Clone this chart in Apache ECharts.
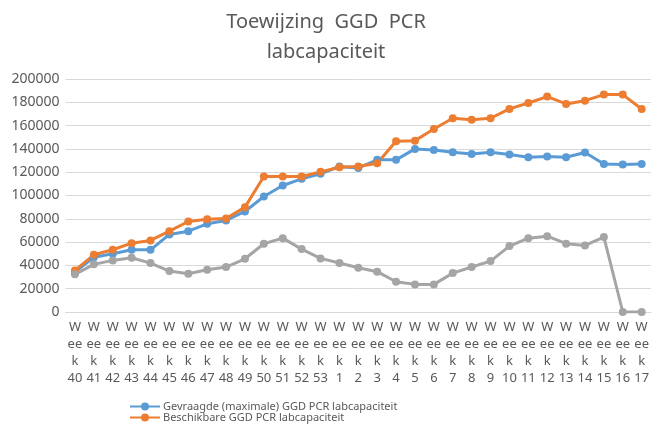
<!DOCTYPE html>
<html>
<head>
<meta charset="utf-8">
<script src="https://cdn.jsdelivr.net/npm/echarts@6/dist/echarts.min.js"></script>
<style>
  html, body { margin: 0; padding: 0; background: #fff; }
  #chart { width: 652px; height: 427px; }
</style>
</head>
<body>
<div id="chart"></div>
<script>
// weken 40 t/m 53 (2020) en 1 t/m 17 (2021)
const weeks = [40, 41, 42, 43, 44, 45, 46, 47, 48, 49, 50, 51, 52, 53,
  1, 2, 3, 4, 5, 6, 7, 8, 9, 10, 11, 12, 13, 14, 15, 16, 17];

const gevraagd = [34300, 47000, 50000, 53400, 53400, 66600, 69400, 75700, 78600, 86300,
  99100, 108600, 114300, 118600, 124900, 123700, 130600, 130600, 140000, 139100,
  137100, 135700, 137100, 135100, 132900, 133400, 132900, 136900, 127100, 126600, 127100];

const beschikbaar = [35700, 49100, 53400, 59100, 61400, 69400, 77700, 79700, 80300, 90000,
  116300, 116300, 116300, 120300, 124300, 124900, 127700, 146600, 147100, 157100,
  166300, 165100, 166300, 174300, 179400, 184900, 178600, 181400, 186600, 186600, 174300];

const verschil = [32300, 40900, 44300, 46600, 42000, 35100, 32900, 36300, 38600, 45700,
  58600, 63400, 54000, 46000, 42000, 38000, 34600, 26000, 23700, 23700,
  33400, 38600, 43700, 56600, 63400, 65100, 58600, 57100, 64300, 0, 0];

const chart = echarts.init(document.getElementById('chart'));

const txt = '#595959';
const font = '"Noto Sans", sans-serif';

function lineSeries(name, data, color) {
  return {
    name: name,
    type: 'line',
    data: data,
    symbol: 'circle',
    symbolSize: 8,
    lineStyle: { color: color, width: 3 },
    itemStyle: { color: color },
    z: 3
  };
}

chart.setOption({
  animation: false,
  title: {
    text: 'Toewijzing  GGD  PCR\nlabcapaciteit',
    left: 'center',
    top: 2,
    textStyle: { color: txt, fontSize: 20, fontWeight: 'normal', fontFamily: font, lineHeight: 30 }
  },
  legend: {
    orient: 'vertical',
    left: 129,
    top: 401,
    height: 40,
    padding: 0,
    itemGap: 0,
    itemWidth: 30,
    itemHeight: 10,
    data: ['Gevraagde (maximale) GGD PCR labcapaciteit', 'Beschikbare GGD PCR labcapaciteit'],
    textStyle: { color: txt, fontSize: 11, fontFamily: font, padding: [0, 0, 0, -2] }
  },
  grid: { left: 65.5, right: -5, top: 79, bottom: 115 },
  xAxis: {
    type: 'category',
    data: weeks.map(w => 'Week ' + w),
    boundaryGap: true,
    axisLine: { lineStyle: { color: '#d9d9d9', width: 1 } },
    axisTick: { show: false },
    axisLabel: {
      interval: 0,
      color: txt,
      fontSize: 13,
      fontFamily: font,
      lineHeight: 17,
      margin: 7,
      formatter: v => 'W\nee\nk\n' + v.replace('Week ', '')
    }
  },
  yAxis: {
    type: 'value',
    min: 0,
    max: 200000,
    interval: 20000,
    axisLine: { show: false },
    axisTick: { show: false },
    splitLine: { lineStyle: { color: '#d9d9d9', width: 1 } },
    axisLabel: { color: txt, fontSize: 14, fontFamily: font, margin: 6, formatter: v => String(v) }
  },
  series: [
    lineSeries('Gevraagde (maximale) GGD PCR labcapaciteit', gevraagd, '#5b9bd5'),
    lineSeries('Beschikbare GGD PCR labcapaciteit', beschikbaar, '#ed7d31'),
    lineSeries('Verschil', verschil, '#a5a5a5')
  ]
});
</script>
</body>
</html>
